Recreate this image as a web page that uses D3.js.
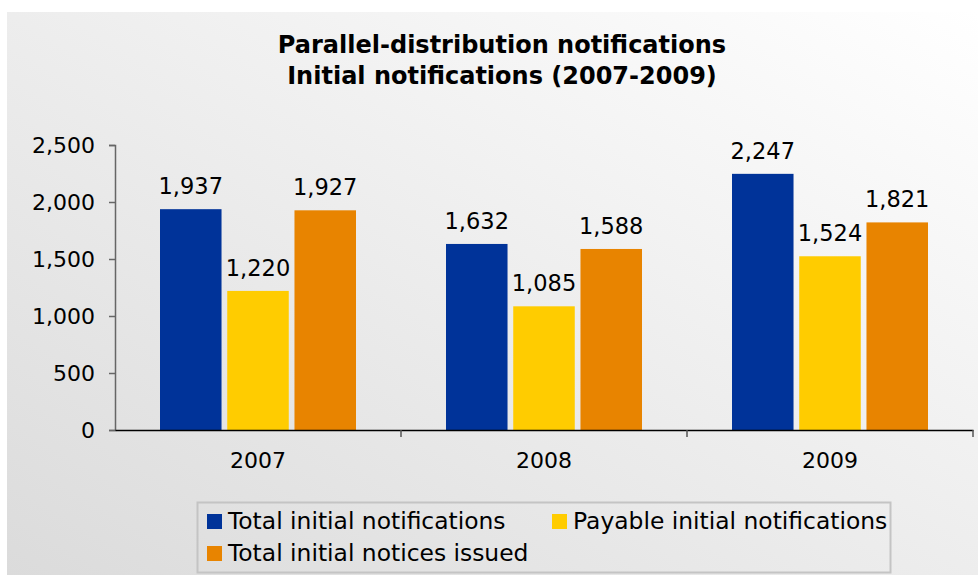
<!DOCTYPE html>
<html>
<head>
<meta charset="utf-8">
<script src="https://d3js.org/d3.v7.min.js"></script>
<style>
  body { margin: 0; background: #fff; }
  svg text { font-family: "DejaVu Sans", Verdana, sans-serif; fill: #000; }
</style>
</head>
<body>
<svg id="chart" width="978" height="575"></svg>
<script>
// values
var years = ["2007", "2008", "2009"]
var seriesNames = ["Total initial notifications", "Payable initial notifications", "Total initial notices issued"]
var totalInitial = [1937, 1632, 2247]
var payableInitial = [1220, 1085, 1524]
var noticesIssued = [1927, 1588, 1821]
var yTicks = [0, 500, 1000, 1500, 2000, 2500]

var colors = ["#003399", "#ffcc00", "#e88400"]
var allSeries = [totalInitial, payableInitial, noticesIssued]

var svg = d3.select("#chart")

// gradient background
var defs = svg.append("defs")
var grad = defs.append("linearGradient")
  .attr("id", "bg")
  .attr("x1", "0%").attr("y1", "100%")
  .attr("x2", "100%").attr("y2", "0%")
grad.append("stop").attr("offset", "0%").attr("stop-color", "#dbdbdb")
grad.append("stop").attr("offset", "100%").attr("stop-color", "#ffffff")

svg.append("rect")
  .attr("x", 7).attr("y", 12)
  .attr("width", 971).attr("height", 563)
  .attr("fill", "url(#bg)")

// title
var title = svg.append("text")
  .attr("text-anchor", "middle")
  .style("font-weight", "bold")
  .style("font-size", "24px")
title.append("tspan").attr("x", 502).attr("y", 53).text("Parallel-distribution notifications")
title.append("tspan").attr("x", 502).attr("y", 84).text("Initial notifications (2007-2009)")

var plotL = 115, plotR = 973, plotT = 145, plotB = 430

var x0 = d3.scaleBand()
  .domain(years)
  .range([plotL, plotR])

var x1 = d3.scaleBand()
  .domain(d3.range(seriesNames.length))
  .range([45, x0.bandwidth() - 45])
  .paddingInner(0.085)

var y = d3.scaleLinear()
  .domain([0, 2500])
  .range([plotB, plotT])

// y axis
var yAxis = svg.append("g")
  .attr("transform", `translate(${plotL},0)`)
  .call(d3.axisLeft(y).tickValues(yTicks).tickFormat(d3.format(",")).tickSize(6).tickPadding(14))
yAxis.select(".domain").attr("stroke", "#666").attr("stroke-width", 1.5)
yAxis.selectAll(".tick line").attr("stroke", "#666").attr("stroke-width", 1.5)
yAxis.selectAll("text").style("font-size", "22px").attr("fill", "#000")

// bars
var groups = svg.selectAll(".grp")
  .data(years)
  .enter().append("g")
  .attr("class", "grp")
  .attr("transform", d => `translate(${x0(d)},0)`)

groups.selectAll("rect")
  .data((d, i) => allSeries.map((s, k) => ({k: k, v: s[i]})))
  .enter().append("rect")
  .attr("x", d => x1(d.k))
  .attr("y", d => y(d.v))
  .attr("width", x1.bandwidth())
  .attr("height", d => plotB - y(d.v))
  .attr("fill", d => colors[d.k])

groups.selectAll(".val")
  .data((d, i) => allSeries.map((s, k) => ({k: k, v: s[i]})))
  .enter().append("text")
  .attr("class", "val")
  .attr("x", d => x1(d.k) + x1.bandwidth() / 2)
  .attr("y", d => y(d.v) - 15)
  .attr("text-anchor", "middle")
  .style("font-size", "22.5px")
  .text(d => d3.format(",")(d.v))

// x axis
var xAxis = svg.append("g")
  .attr("transform", `translate(0,${plotB})`)
  .call(d3.axisBottom(x0).tickSize(0).tickPadding(22))
xAxis.select(".domain").attr("stroke", "#000").attr("stroke-width", 1.5)
xAxis.selectAll("text").style("font-size", "22px").attr("fill", "#000")
xAxis.selectAll(".sep")
  .data([x0("2008"), x0("2009"), plotR])
  .enter().append("line")
  .attr("class", "sep")
  .attr("x1", d => d).attr("x2", d => d)
  .attr("y1", 0).attr("y2", 7)
  .attr("stroke", "#555").attr("stroke-width", 1.5)

// legend
var legend = svg.append("g")
legend.append("rect")
  .attr("x", 197.5).attr("y", 502.5)
  .attr("width", 693).attr("height", 70)
  .attr("fill", "none")
  .attr("stroke", "#c4c4c4")
  .attr("stroke-width", 2)

var legPos = [[207, 521], [552, 521], [207, 553]]
var items = legend.selectAll(".item")
  .data(seriesNames)
  .enter().append("g")
  .attr("class", "item")
  .attr("transform", (d, i) => `translate(${legPos[i][0]},${legPos[i][1]})`)
items.append("rect")
  .attr("x", 0).attr("y", -7)
  .attr("width", 15).attr("height", 15)
  .attr("fill", (d, i) => colors[i])
items.append("text")
  .attr("x", 21).attr("y", 8)
  .style("font-size", "23.4px")
  .text(d => d)
</script>
</body>
</html>
